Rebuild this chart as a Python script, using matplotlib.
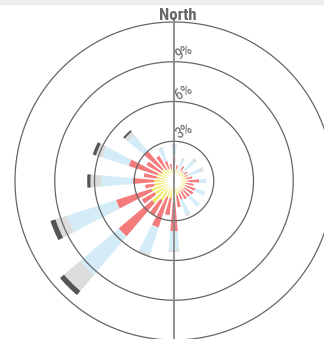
import numpy as np
import matplotlib
matplotlib.use("Agg")
import matplotlib.pyplot as plt
from matplotlib.transforms import offset_copy
from matplotlib import font_manager

# 32 compass directions, degrees clockwise from north
directions = [i * 11.25 for i in range(32)]

# frequency (%) in each band, stacked from the centre outwards
band_yellow = [1.0, 0.9, 0.8, 0.9, 0.9, 0.9, 0.9, 0.9,
               1.0, 0.9, 0.9, 0.9, 0.9, 0.9, 1.0, 1.1,
               1.6, 1.3, 1.3, 1.7, 2.2, 1.7, 1.8, 1.5,
               1.5, 1.3, 1.3, 1.1, 1.2, 1.0, 1.0, 0.9]
band_red = [0.7, 0.3, 0.0, 0.4, 0.1, 0.3, 0.2, 0.5,
            0.9, 0.6, 0.8, 0.8, 0.7, 0.7, 0.5, 0.9,
            2.2, 1.3, 2.4, 1.3, 3.3, 1.1, 2.8, 0.7,
            1.6, 1.0, 2.3, 1.3, 1.8, 1.2, 0.6, 0.4]
band_blue = [0.9, 0, 0.9, 0, 1.1, 0, 1.1, 0,
             0.55, 0, 0.8, 0, 1.0, 0, 1.2, 0,
             1.4, 0, 2.1, 0, 3.8, 0, 3.9, 0,
             2.4, 0, 2.1, 0, 1.6, 0, 0.95, 0]
band_lgray = [0.2, 0, 0.15, 0, 0.2, 0, 0.15, 0,
              0, 0, 0, 0, 0, 0, 0.1, 0,
              0.15, 0, 0.2, 0, 1.6, 0, 0.9, 0,
              0.8, 0, 0.5, 0, 0.3, 0, 0.15, 0]
band_dgray = [0, 0, 0, 0, 0, 0, 0, 0,
              0, 0, 0, 0, 0, 0, 0, 0,
              0, 0, 0, 0, 0.4, 0, 0.4, 0,
              0.25, 0, 0.25, 0, 0.15, 0, 0, 0]

bands = [band_yellow, band_red, band_blue, band_lgray, band_dgray]
band_colors = ["#efe766", "#f37b7b", "#d3ecf7", "#dcdcdc", "#555555"]

ring_values = [3, 6, 9, 12]
ring_labels = ["3%", "6%", "9%"]

# pick a condensed face if one is installed
names = {f.name for f in font_manager.fontManager.ttflist}
label_font = [n for n in ["DejaVu Sans Condensed", "Liberation Sans Narrow",
                          "Roboto Condensed"] if n in names] + ["DejaVu Sans"]

fig = plt.figure(figsize=(3.24, 3.39), dpi=100)

# light strip along the top edge
fig.patches.append(plt.Rectangle((0, 1 - 4 / 339), 1, 4 / 339,
                                 transform=fig.transFigure, color="#eeeeee",
                                 zorder=0))

# polar axes centred at (174, 158) px, 1% = 13.25 px
px_per_pct = 13.25
rmax = 12.6
R = rmax * px_per_pct
ax = fig.add_axes([(174 - R) / 324, (158 - R) / 339, 2 * R / 324, 2 * R / 339],
                  projection="polar")
ax.set_theta_zero_location("N")
ax.set_theta_direction(-1)
ax.set_ylim(0, rmax)
ax.axis("off")

# wedges with a small parallel gap between neighbours
half = np.deg2rad(4.8)
pad = 0.5 / px_per_pct


def half_width(r):
    r = np.maximum(r, 1e-6)
    return np.maximum(half - np.arcsin(np.minimum(pad / r, 1.0)), 0.0)


bottom = np.zeros(len(directions))
for values, color in zip(bands, band_colors):
    for i, d in enumerate(directions):
        v = values[i]
        if v <= 0:
            continue
        t0 = np.deg2rad(d)
        r0, r1 = bottom[i], bottom[i] + v
        rs = np.linspace(r0, r1, 30)
        hw = half_width(rs)
        arc1 = np.linspace(hw[-1], -hw[-1], 10)
        arc0 = np.linspace(-hw[0], hw[0], 10)
        th = np.concatenate([t0 + hw, t0 + arc1, t0 - hw[::-1], t0 + arc0])
        rr = np.concatenate([rs, np.full(10, r1), rs[::-1], np.full(10, r0)])
        ax.fill(th, rr, color=color, lw=0, zorder=2)
    bottom = bottom + np.array(values)

# rings
t = np.linspace(0, 2 * np.pi, 400)
for r in ring_values:
    ax.plot(t, np.full_like(t, r), color="#666666", lw=0.9, zorder=3)

# north-south axis line
ax.plot([0, 0], [0, 12.3], color="#888888", lw=1.3, zorder=4)
ax.plot([np.pi, np.pi], [0, rmax], color="#888888", lw=1.3, zorder=4)

# ring labels
lab_tr = offset_copy(ax.transData, fig=fig, x=4, y=2, units="dots")
for r, lab in zip(ring_values, ring_labels):
    ax.text(0, r, lab, transform=lab_tr, rotation=28, rotation_mode="anchor",
            ha="left", va="baseline", fontsize=11, color="#666666",
            family=label_font, zorder=5)

fig.text(178 / 324, 1 - 20 / 339, "North", ha="center", va="baseline",
         fontsize=12, fontweight="bold", color="#666666", family=label_font)

fig.savefig("out.png", dpi=100)
